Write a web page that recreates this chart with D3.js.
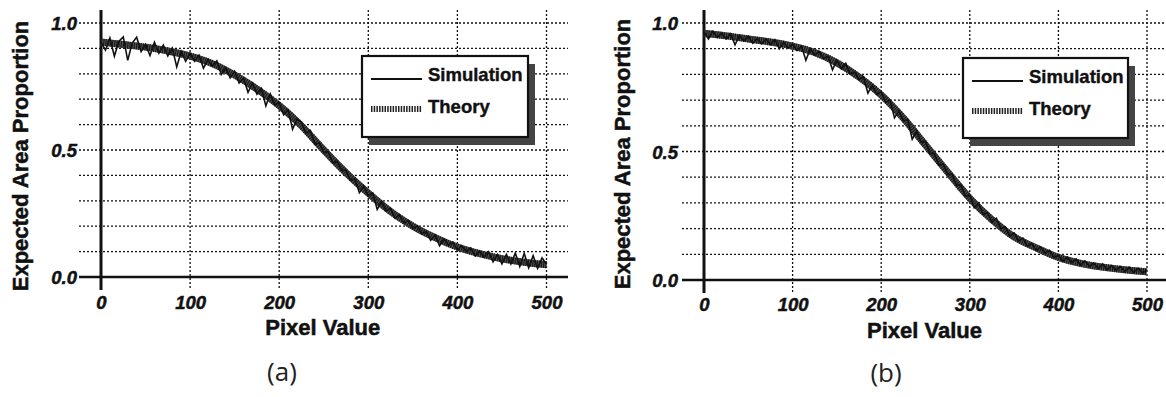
<!DOCTYPE html>
<html>
<head>
<meta charset="utf-8">
<script src="https://cdn.jsdelivr.net/npm/d3@7"></script>
<style>
  body { margin: 0; background: #fff; }
  svg { display: block; }
  .tick-label { font-family: "Liberation Sans", Arial, sans-serif; font-weight: bold; font-style: italic; font-size: 18.5px; fill: #111; stroke: #111; stroke-width: 0.5px; }
  .axis-title { font-family: "Liberation Sans", Arial, sans-serif; font-weight: bold; font-size: 22px; fill: #111; stroke: #111; stroke-width: 0.5px; }
  .legend-text { font-family: "Liberation Sans", Arial, sans-serif; font-weight: bold; font-size: 18.5px; fill: #111; stroke: #111; stroke-width: 0.4px; }
  .caption { font-family: "Open Sans", "Noto Sans", sans-serif; font-size: 26px; fill: #222; }
</style>
</head>
<body>
<svg></svg>
<script>
//Data
const xTicks = [0, 100, 200, 300, 400, 500];
const yTicks = [0.0, 0.5, 1.0];
const yGrid = [0.1, 0.2, 0.3, 0.4, 0.5, 0.6, 0.7, 0.8, 0.9, 1.0];
const xGrid = [100, 200, 300, 400, 500];
const legendLabels = ["Simulation", "Theory"];

//Theory curve, every 25 pixel values
const theoryX = [0, 25, 50, 75, 100, 125, 150, 175, 200, 225, 250, 275, 300, 325, 350, 375, 400, 425, 450, 475, 500];
const theoryA = [0.925, 0.915, 0.905, 0.89, 0.87, 0.84, 0.795, 0.74, 0.675, 0.595, 0.50, 0.41, 0.33, 0.258, 0.20, 0.155, 0.118, 0.092, 0.072, 0.058, 0.048];
const theoryB = [0.96, 0.95, 0.938, 0.926, 0.91, 0.885, 0.845, 0.79, 0.72, 0.63, 0.525, 0.42, 0.318, 0.235, 0.168, 0.125, 0.088, 0.065, 0.05, 0.04, 0.032];

//Simulation (noisy), every 5 pixel values from 0 to 500
const simStep = 5;
const simA = [
  0.925, 0.893, 0.941, 0.869, 0.927, 0.945, 0.853, 0.921, 0.944, 0.887,
  0.915, 0.872, 0.924, 0.881, 0.913, 0.87, 0.901, 0.827, 0.888, 0.849,
  0.88, 0.849, 0.873, 0.822, 0.856, 0.83, 0.851, 0.797, 0.823, 0.784,
  0.81, 0.764, 0.783, 0.727, 0.763, 0.72, 0.742, 0.674, 0.721, 0.678,
  0.687, 0.639, 0.658, 0.582, 0.621, 0.61, 0.566, 0.577, 0.523, 0.529,
  0.49, 0.494, 0.449, 0.456, 0.42, 0.42, 0.382, 0.386, 0.332, 0.358,
  0.32, 0.331, 0.266, 0.297, 0.26, 0.27, 0.231, 0.245, 0.213, 0.222,
  0.192, 0.201, 0.17, 0.179, 0.144, 0.165, 0.123, 0.15, 0.125, 0.137,
  0.106, 0.123, 0.1, 0.114, 0.082, 0.102, 0.078, 0.099, 0.06, 0.088,
  0.052, 0.089, 0.051, 0.094, 0.041, 0.093, 0.036, 0.084, 0.034, 0.075,
  0.05
];
const simB = [
  0.965, 0.938, 0.968, 0.944, 0.96, 0.938, 0.958, 0.915, 0.951, 0.93,
  0.948, 0.921, 0.939, 0.919, 0.938, 0.916, 0.935, 0.9, 0.924, 0.903,
  0.918, 0.893, 0.91, 0.855, 0.90, 0.875, 0.889, 0.861, 0.871, 0.818,
  0.855, 0.822, 0.843, 0.802, 0.809, 0.78, 0.791, 0.727, 0.758, 0.722,
  0.732, 0.692, 0.699, 0.631, 0.658, 0.62, 0.624, 0.548, 0.579, 0.536,
  0.54, 0.492, 0.493, 0.447, 0.451, 0.41, 0.412, 0.369, 0.369, 0.326,
  0.33, 0.281, 0.30, 0.256, 0.262, 0.225, 0.24, 0.20, 0.207, 0.171,
  0.183, 0.151, 0.163, 0.132, 0.142, 0.115, 0.128, 0.104, 0.115, 0.087,
  0.096, 0.073, 0.089, 0.068, 0.082, 0.057, 0.074, 0.053, 0.066, 0.045,
  0.062, 0.04, 0.056, 0.038, 0.052, 0.032, 0.05, 0.03, 0.045, 0.028,
  0.038
];

const w = 1166;
const h = 397;

const svg = d3.select("svg")
              .attr("width", w)
              .attr("height", h);

//Panel layouts (pixels)
const panels = [
  { theory: theoryA, sim: simA, caption: "(a)", captionX: 282,
    xRange: [101, 546.5], yRange: [277, 23], top: 10, gridLeft: 79, gridRight: 568,
    tickBottom: 290, yPad: 24, xPad: 19, yTitleX: 28, yTitleMid: 156, xTitleY: 335, captionY: 381,
    legend: { x: 362, y: 56, w: 166, h: 81 } },
  { theory: theoryB, sim: simB, caption: "(b)", captionX: 886,
    xRange: [704, 1147], yRange: [280, 23], top: 10, gridLeft: 682, gridRight: 1166,
    tickBottom: 293, yPad: 26, xPad: 18, yTitleX: 630, yTitleMid: 154, xTitleY: 338, captionY: 382,
    legend: { x: 963, y: 58, w: 165, h: 80 } }
];

panels.forEach(drawPanel);

function drawPanel(p){
  const x = d3.scaleLinear().domain([0, 500]).range(p.xRange);
  const y = d3.scaleLinear().domain([0, 1]).range(p.yRange);
  const g = svg.append("g");

  //Dotted grid
  g.append("g").selectAll("line")
   .data(yGrid)
   .enter()
   .append("line")
   .attr("x1", p.gridLeft)
   .attr("x2", p.gridRight)
   .attr("y1", (d) => y(d))
   .attr("y2", (d) => y(d))
   .attr("stroke", "#111")
   .attr("stroke-width", 1.3)
   .attr("stroke-dasharray", "2,2");

  g.append("g").selectAll("line")
   .data(xGrid)
   .enter()
   .append("line")
   .attr("x1", (d) => x(d))
   .attr("x2", (d) => x(d))
   .attr("y1", p.top)
   .attr("y2", p.tickBottom)
   .attr("stroke", "#111")
   .attr("stroke-width", 1.3)
   .attr("stroke-dasharray", "2,2");

  //Axis lines
  g.append("line")
   .attr("x1", p.gridLeft).attr("x2", p.gridRight)
   .attr("y1", y(0)).attr("y2", y(0))
   .attr("stroke", "#111").attr("stroke-width", 2.5);
  g.append("line")
   .attr("x1", x(0)).attr("x2", x(0))
   .attr("y1", p.top).attr("y2", p.tickBottom)
   .attr("stroke", "#111").attr("stroke-width", 3);

  //Tick labels through d3 axes
  const xAxis = d3.axisBottom(x).tickValues(xTicks).tickSize(0).tickPadding(p.xPad).tickFormat(d3.format("d"));
  g.append("g")
   .attr("transform", `translate(0, ${y(0)})`)
   .call(xAxis)
   .call((a) => a.select(".domain").remove())
   .selectAll("text").attr("class", "tick-label");

  const yAxis = d3.axisLeft(y).tickValues(yTicks).tickSize(0).tickPadding(p.yPad).tickFormat(d3.format(".1f"));
  g.append("g")
   .attr("transform", `translate(${x(0)}, 0)`)
   .call(yAxis)
   .call((a) => a.select(".domain").remove())
   .selectAll("text").attr("class", "tick-label").attr("dy", "0.36em");

  //Curves
  const theoryData = theoryX.map((d, i) => [d, p.theory[i]]);
  const simData = p.sim.map((d, i) => [i * simStep, d]);
  const smooth = d3.line().x((d) => x(d[0])).y((d) => y(d[1])).curve(d3.curveMonotoneX);
  const jagged = d3.line().x((d) => x(d[0])).y((d) => y(d[1]));

  g.append("path").datum(theoryData)
   .attr("d", smooth).attr("fill", "none")
   .attr("stroke", "#555").attr("stroke-width", 7);
  g.append("path").datum(theoryData)
   .attr("d", smooth).attr("fill", "none")
   .attr("stroke", "#1a1a1a").attr("stroke-width", 7).attr("stroke-dasharray", "1.2,1");
  g.append("path").datum(simData)
   .attr("d", jagged).attr("fill", "none")
   .attr("stroke", "#111").attr("stroke-width", 1.6).attr("stroke-linejoin", "miter");

  //Titles
  g.append("text")
   .attr("class", "axis-title")
   .attr("text-anchor", "middle")
   .attr("transform", `translate(${p.yTitleX}, ${p.yTitleMid}) rotate(-90)`)
   .text("Expected Area Proportion");

  g.append("text")
   .attr("class", "axis-title")
   .attr("text-anchor", "middle")
   .attr("x", (x(0) + x(500)) / 2 - 1)
   .attr("y", p.xTitleY)
   .text("Pixel Value");

  g.append("text")
   .attr("class", "caption")
   .attr("text-anchor", "middle")
   .attr("x", p.captionX)
   .attr("y", p.captionY)
   .text(p.caption);

  //Legend box with drop shadow
  const L = p.legend;
  const legend = g.append("g").attr("transform", `translate(${L.x}, ${L.y})`);
  legend.append("rect")
        .attr("x", 7).attr("y", 8).attr("width", L.w).attr("height", L.h)
        .attr("fill", "#444");
  legend.append("rect")
        .attr("x", 0).attr("y", 0).attr("width", L.w).attr("height", L.h)
        .attr("fill", "#fff").attr("stroke", "#111").attr("stroke-width", 2.2);

  legend.append("line")
        .attr("x1", 9).attr("x2", 60).attr("y1", 23).attr("y2", 23)
        .attr("stroke", "#111").attr("stroke-width", 2);
  legend.append("line")
        .attr("x1", 9).attr("x2", 60).attr("y1", 53).attr("y2", 53)
        .attr("stroke", "#222").attr("stroke-width", 6).attr("stroke-dasharray", "1.5,1.2");

  legend.selectAll(".legend-text")
        .data(legendLabels)
        .enter()
        .append("text")
        .attr("class", "legend-text")
        .attr("x", 66)
        .attr("y", (d, i) => 25 + i * 32)
        .text((d) => d);
}
</script>
</body>
</html>
